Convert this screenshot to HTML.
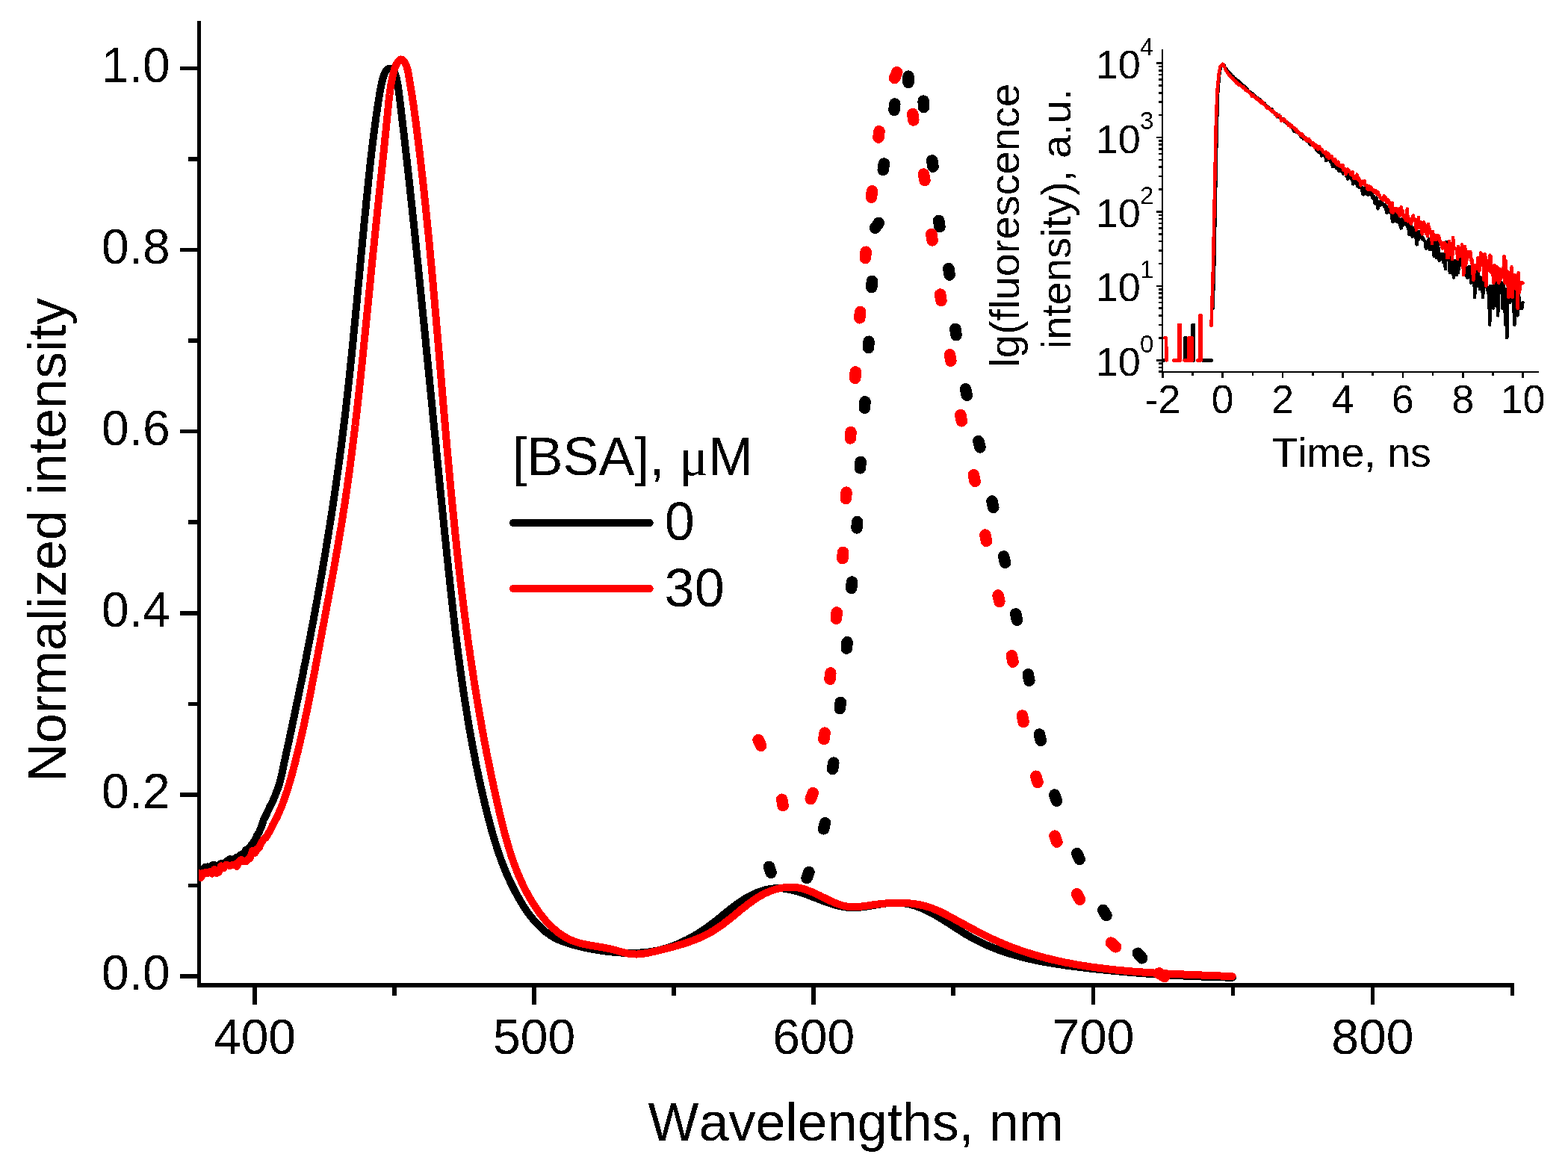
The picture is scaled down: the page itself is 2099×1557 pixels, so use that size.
<!DOCTYPE html><html><head><meta charset="utf-8"><style>html,body{margin:0;padding:0;background:#fff;overflow:hidden;}svg{display:block;}text{font-family:"Liberation Sans",sans-serif;fill:#000;font-variant-ligatures:none;font-kerning:none;}</style></head><body>
<svg width="2099" height="1557" viewBox="0 0 2099 1557" shape-rendering="crispEdges">
<rect width="2099" height="1557" fill="#fff"/>
<path d="M266.5 27.8V1322" stroke="#000" stroke-width="5" fill="none"/>
<path d="M264 1319H2027" stroke="#000" stroke-width="6" fill="none"/>
<path d="M241 1307H266M241 1063.9H266M241 820.8H266M241 577.7H266M241 334.6H266M241 91.5H266M252 1185.5H266M252 942.3H266M252 699.2H266M252 456.1H266M252 213H266M341 1319V1345M715.1 1319V1345M1089.2 1319V1345M1463.3 1319V1345M1837.4 1319V1345M528 1319V1333M902.1 1319V1333M1276.2 1319V1333M1650.4 1319V1333M2024.5 1319V1333" stroke="#000" stroke-width="5.5" fill="none"/>
<defs><clipPath id="pc"><rect x="266" y="0" width="1770" height="1319"/></clipPath></defs><g clip-path="url(#pc)">
<path d="M265.9 1163.9L268.9 1164.8L271.9 1164.4L274.9 1160.7L277.9 1160.4L280.9 1163.5L283.9 1158.3L286.9 1157.7L289.9 1160.8L292.9 1158.3L295.9 1156L298.9 1155.6L301.9 1155.3L304.9 1152.1L307.9 1150.1L310.9 1152L313.9 1149.9L316.9 1147.5L319.9 1147.3L322.9 1144.1L325.9 1144.1L328.9 1137.9L331.9 1137L334.9 1133.6L337.9 1129.3L340.9 1125.8L343.9 1118.7L346.9 1114L349.9 1106.7L352.9 1097.5L355.9 1091.8L358.9 1085.2L361.9 1078.7L364.9 1073.4L367.9 1066.1L370.9 1058.5L373.9 1049.7L375.4 1044.1L375.9 1042.2L376.4 1040.2L376.8 1038.3L377.3 1036.3L377.7 1034.3L378.1 1032.3L378.5 1030.4L378.9 1028.4L379.3 1026.4L379.7 1024.5L380.2 1022.5L380.6 1020.5L381 1018.6L381.4 1016.6L381.8 1014.7L382.2 1012.7L382.7 1010.7L383.1 1008.8L383.5 1006.8L383.9 1004.9L384.4 1002.9L384.8 1001L385.2 999L385.6 997.1L386.1 995.2L386.5 993.2L386.9 991.3L387.3 989.3L387.7 987.4L388.2 985.4L388.6 983.4L389 981.5L389.4 979.5L389.8 977.6L390.2 975.6L390.7 973.7L391.1 971.7L391.5 969.8L391.9 967.8L392.3 965.9L392.7 963.9L393.1 962L393.6 960L394 958.1L394.4 956.1L394.8 954.2L395.2 952.2L395.6 950.3L396 948.3L396.4 946.3L396.8 944.4L397.2 942.4L397.6 940.5L398.1 938.5L398.5 936.6L398.9 934.6L399.3 932.7L399.7 930.7L400.1 928.7L400.5 926.8L400.9 924.8L401.3 922.9L401.7 920.9L402.1 919L402.5 917L402.9 915L403.3 913.1L403.7 911.1L404.1 909.2L404.5 907.2L404.9 905.2L405.3 903.3L405.7 901.3L406 899.4L406.4 897.4L406.8 895.4L407.2 893.5L407.6 891.5L408 889.6L408.4 887.6L408.8 885.6L409.2 883.7L409.6 881.7L409.9 879.8L410.3 877.8L410.7 875.8L411.1 873.9L411.5 871.9L411.9 869.9L412.3 868L412.6 866L413 864.1L413.4 862.1L413.8 860.1L414.2 858.2L414.5 856.2L414.9 854.2L415.3 852.3L415.7 850.3L416 848.3L416.4 846.4L416.8 844.4L417.2 842.5L417.5 840.5L417.9 838.5L418.3 836.6L418.6 834.6L419 832.6L419.4 830.7L419.8 828.7L420.1 826.7L420.5 824.8L420.9 822.8L421.2 820.8L421.6 818.9L421.9 816.9L422.3 814.9L422.7 813L423 811L423.4 809L423.8 807.1L424.1 805.1L424.5 803.1L424.8 801.1L425.2 799.2L425.5 797.2L425.9 795.2L426.2 793.3L426.6 791.3L427 789.3L427.3 787.4L427.7 785.4L428 783.4L428.4 781.5L428.7 779.5L429 777.5L429.4 775.5L429.7 773.6L430.1 771.6L430.4 769.6L430.8 767.7L431.1 765.7L431.5 763.7L431.8 761.7L432.1 759.8L432.5 757.8L432.8 755.8L433.1 753.9L433.5 751.9L433.8 749.9L434.2 747.9L434.5 746L434.8 744L435.2 742L435.5 740L435.8 738.1L436.1 736.1L436.5 734.1L436.8 732.1L437.1 730.2L437.4 728.2L437.8 726.2L438.1 724.2L438.4 722.3L438.7 720.3L439.1 718.3L439.4 716.3L439.7 714.4L440 712.4L440.3 710.4L440.6 708.4L441 706.5L441.3 704.5L441.6 702.5L441.9 700.5L442.2 698.6L442.5 696.6L442.8 694.6L443.1 692.6L443.4 690.7L443.8 688.7L444.1 686.7L444.4 684.7L444.7 682.8L445 680.8L445.3 678.8L445.6 676.8L445.9 674.8L446.2 672.9L446.5 670.9L446.8 668.9L447.1 666.9L447.4 664.9L447.6 663L447.9 661L448.2 659L448.5 657L448.8 655.1L449.1 653.1L449.4 651.1L449.7 649.1L450 647.1L450.2 645.2L450.5 643.2L450.8 641.2L451.1 639.2L451.4 637.2L451.6 635.3L451.9 633.3L452.2 631.3L452.5 629.3L452.7 627.3L453 625.4L453.3 623.4L453.6 621.4L453.8 619.4L454.1 617.4L454.4 615.4L454.6 613.5L454.9 611.5L455.2 609.5L455.4 607.5L455.7 605.5L456 603.6L456.2 601.6L456.5 599.6L456.7 597.6L457 595.6L457.2 593.6L457.5 591.7L457.8 589.7L458 587.7L458.3 585.7L458.5 583.7L458.8 581.7L459 579.8L459.2 577.8L459.5 575.8L459.7 573.8L460 571.8L460.2 569.8L460.5 567.9L460.7 565.9L460.9 563.9L461.2 561.9L461.4 559.9L461.7 557.9L461.9 556L462.1 554L462.4 552L462.6 550L462.8 548L463 546L463.3 544L463.5 542.1L463.7 540.1L464 538.1L464.2 536.1L464.4 534.1L464.6 532.1L464.9 530.1L465.1 528.2L465.3 526.2L465.5 524.2L465.7 522.2L466 520.2L466.2 518.2L466.4 516.2L466.6 514.3L466.8 512.3L467 510.3L467.2 508.3L467.5 506.3L467.7 504.3L467.9 502.3L468.1 500.4L468.3 498.4L468.5 496.4L468.7 494.4L468.9 492.4L469.1 490.4L469.3 488.4L469.5 486.4L469.8 484.5L470 482.5L470.2 480.5L470.4 478.5L470.6 476.5L470.8 474.5L471 472.5L471.2 470.5L471.4 468.6L471.6 466.6L471.8 464.6L472 462.6L472.2 460.6L472.4 458.6L472.6 456.6L472.8 454.6L473 452.6L473.2 450.7L473.4 448.7L473.5 446.7L473.7 444.7L473.9 442.7L474.1 440.7L474.3 438.7L474.5 436.7L474.7 434.7L474.9 432.8L475.1 430.8L475.3 428.8L475.5 426.8L475.7 424.8L475.9 422.8L476 420.8L476.2 418.8L476.4 416.8L476.6 414.8L476.8 412.9L477 410.9L477.2 408.9L477.4 406.9L477.6 404.9L477.7 402.9L477.9 400.9L478.1 398.9L478.3 396.9L478.5 394.9L478.7 392.9L478.9 391L479.1 389L479.2 387L479.4 385L479.6 383L479.8 381L480 379L480.2 377L480.4 375L480.6 373L480.7 371L480.9 369.1L481.1 367.1L481.3 365.1L481.5 363.1L481.7 361.1L481.9 359.1L482 357.1L482.2 355.1L482.4 353.1L482.6 351.1L482.8 349.1L483 347.1L483.2 345.1L483.4 343.2L483.5 341.2L483.7 339.2L483.9 337.2L484.1 335.2L484.3 333.2L484.5 331.2L484.7 329.2L484.9 327.2L485 325.2L485.2 323.2L485.4 321.2L485.6 319.2L485.8 317.3L486 315.3L486.2 313.3L486.4 311.3L486.6 309.3L486.7 307.3L486.9 305.3L487.1 303.3L487.3 301.3L487.5 299.3L487.7 297.3L487.9 295.3L488.1 293.3L488.3 291.3L488.5 289.3L488.7 287.4L488.9 285.4L489.1 283.4L489.3 281.4L489.5 279.4L489.7 277.4L489.9 275.4L490.1 273.4L490.3 271.4L490.4 269.4L490.6 267.4L490.8 265.4L491 263.4L491.2 261.4L491.5 259.4L491.7 257.4L491.9 255.4L492.1 253.5L492.3 251.5L492.5 249.5L492.7 247.5L492.9 245.5L493.1 243.5L493.3 241.5L493.5 239.5L493.7 237.5L493.9 235.5L494.1 233.5L494.3 231.5L494.6 229.5L494.8 227.5L495 225.5L495.2 223.6L495.4 221.6L495.6 219.6L495.9 217.6L496.1 215.6L496.3 213.6L496.5 211.6L496.8 209.6L497 207.6L497.2 205.6L497.4 203.7L497.7 201.7L497.9 199.7L498.1 197.7L498.4 195.7L498.6 193.7L498.8 191.7L499.1 189.8L499.3 187.8L499.6 185.8L499.8 183.8L500.1 181.8L500.3 179.9L500.6 177.9L500.8 175.9L501.1 173.9L501.4 172L501.6 170L501.9 168L502.1 166.1L502.4 164.1L502.7 162.1L503 160.1L503.2 158.2L503.5 156.2L503.8 154.3L504.1 152.3L504.4 150.3L504.7 148.4L504.9 146.4L505.2 144.5L505.5 142.5L505.8 140.5L506.1 138.6L506.4 136.6L506.7 134.7L507.1 132.7L507.4 130.8L507.7 128.9L508 126.9L508.3 125L508.7 123L509 121.1L509.4 119.1L509.7 117.1L510.1 115.1L510.6 113L511 110.9L511.6 108.7L512.1 106.4L512.7 104.2L513.4 102L514.2 99.8L515.1 97.8L516 96L517.1 94.5L518.3 93.3L519.6 92.4L521 91.9L522.4 91.8L523.9 92.2L525.2 93L526.3 94.2L527.4 95.7L528.3 97.4L529.1 99.4L529.8 101.5L530.5 103.7L531 106L531.5 108.2L532 110.4L532.4 112.6L532.7 114.7L533 116.8L533.3 118.8L533.6 120.8L533.9 122.8L534.1 124.8L534.4 126.8L534.6 128.7L534.9 130.7L535.1 132.7L535.3 134.6L535.6 136.6L535.8 138.5L536 140.5L536.3 142.5L536.5 144.4L536.7 146.4L537 148.4L537.2 150.3L537.4 152.3L537.7 154.3L537.9 156.2L538.1 158.2L538.4 160.2L538.6 162.2L538.8 164.1L539.1 166.1L539.3 168.1L539.5 170L539.8 172L540 174L540.2 176L540.5 177.9L540.7 179.9L540.9 181.9L541.1 183.9L541.4 185.9L541.6 187.8L541.8 189.8L542 191.8L542.3 193.8L542.5 195.8L542.7 197.7L542.9 199.7L543.2 201.7L543.4 203.7L543.6 205.7L543.8 207.6L544.1 209.6L544.3 211.6L544.5 213.6L544.7 215.6L545 217.6L545.2 219.5L545.4 221.5L545.6 223.5L545.8 225.5L546.1 227.5L546.3 229.5L546.5 231.5L546.7 233.4L546.9 235.4L547.2 237.4L547.4 239.4L547.6 241.4L547.8 243.4L548 245.4L548.2 247.4L548.5 249.4L548.7 251.3L548.9 253.3L549.1 255.3L549.3 257.3L549.5 259.3L549.7 261.3L550 263.3L550.2 265.3L550.4 267.3L550.6 269.3L550.8 271.2L551 273.2L551.2 275.2L551.5 277.2L551.7 279.2L551.9 281.2L552.1 283.2L552.3 285.2L552.5 287.2L552.7 289.2L552.9 291.2L553.1 293.2L553.4 295.2L553.6 297.2L553.8 299.1L554 301.1L554.2 303.1L554.4 305.1L554.6 307.1L554.8 309.1L555 311.1L555.2 313.1L555.4 315.1L555.7 317.1L555.9 319.1L556.1 321.1L556.3 323.1L556.5 325.1L556.7 327.1L556.9 329.1L557.1 331.1L557.3 333L557.5 335L557.7 337L557.9 339L558.1 341L558.3 343L558.5 345L558.7 347L559 349L559.2 351L559.4 353L559.6 355L559.8 357L560 359L560.2 361L560.4 362.9L560.6 364.9L560.8 366.9L561 368.9L561.2 370.9L561.4 372.9L561.6 374.9L561.8 376.9L562 378.9L562.2 380.9L562.4 382.9L562.6 384.9L562.8 386.8L563 388.8L563.2 390.8L563.4 392.8L563.6 394.8L563.8 396.8L564 398.8L564.2 400.8L564.4 402.8L564.6 404.8L564.8 406.8L565 408.7L565.2 410.7L565.4 412.7L565.6 414.7L565.8 416.7L566 418.7L566.2 420.7L566.4 422.7L566.6 424.7L566.8 426.7L567 428.6L567.2 430.6L567.4 432.6L567.6 434.6L567.8 436.6L568 438.6L568.2 440.6L568.4 442.6L568.6 444.6L568.8 446.6L569 448.5L569.2 450.5L569.4 452.5L569.6 454.5L569.8 456.5L569.9 458.5L570.1 460.5L570.3 462.5L570.5 464.4L570.7 466.4L570.9 468.4L571.1 470.4L571.3 472.4L571.5 474.4L571.7 476.4L571.9 478.4L572.1 480.4L572.3 482.3L572.5 484.3L572.7 486.3L572.9 488.3L573.1 490.3L573.3 492.3L573.5 494.3L573.7 496.3L573.9 498.2L574.1 500.2L574.3 502.2L574.5 504.2L574.7 506.2L574.8 508.2L575 510.2L575.2 512.2L575.4 514.1L575.6 516.1L575.8 518.1L576 520.1L576.2 522.1L576.4 524.1L576.6 526.1L576.8 528.1L577 530L577.2 532L577.4 534L577.6 536L577.8 538L578 540L578.2 542L578.4 544L578.6 545.9L578.8 547.9L579 549.9L579.1 551.9L579.3 553.9L579.5 555.9L579.7 557.9L579.9 559.9L580.1 561.8L580.3 563.8L580.5 565.8L580.7 567.8L580.9 569.8L581.1 571.8L581.3 573.8L581.5 575.8L581.7 577.7L581.9 579.7L582.1 581.7L582.3 583.7L582.5 585.7L582.7 587.7L582.9 589.7L583.1 591.7L583.3 593.6L583.5 595.6L583.7 597.6L583.8 599.6L584 601.6L584.2 603.6L584.4 605.6L584.6 607.5L584.8 609.5L585 611.5L585.2 613.5L585.4 615.5L585.6 617.5L585.8 619.5L586 621.5L586.2 623.4L586.4 625.4L586.6 627.4L586.8 629.4L587 631.4L587.2 633.4L587.4 635.4L587.6 637.4L587.8 639.4L588 641.3L588.2 643.3L588.4 645.3L588.6 647.3L588.8 649.3L589 651.3L589.2 653.3L589.4 655.3L589.6 657.2L589.8 659.2L590 661.2L590.2 663.2L590.4 665.2L590.6 667.2L590.8 669.2L591 671.2L591.2 673.2L591.4 675.1L591.6 677.1L591.8 679.1L592 681.1L592.2 683.1L592.4 685.1L592.6 687.1L592.8 689.1L593 691.1L593.2 693L593.4 695L593.6 697L593.8 699L594 701L594.2 703L594.4 705L594.6 707L594.8 709L595 710.9L595.2 712.9L595.4 714.9L595.6 716.9L595.8 718.9L596 720.9L596.3 722.9L596.5 724.9L596.7 726.9L596.9 728.9L597.1 730.8L597.3 732.8L597.5 734.8L597.7 736.8L597.9 738.8L598.1 740.8L598.3 742.8L598.5 744.8L598.7 746.8L598.9 748.8L599.1 750.8L599.4 752.8L599.6 754.7L599.8 756.7L600 758.7L600.2 760.7L600.4 762.7L600.6 764.7L600.8 766.7L601 768.7L601.2 770.7L601.5 772.7L601.7 774.7L601.9 776.7L602.1 778.6L602.3 780.6L602.5 782.6L602.7 784.6L603 786.6L603.2 788.6L603.4 790.6L603.6 792.6L603.8 794.6L604 796.6L604.3 798.6L604.5 800.6L604.7 802.5L604.9 804.5L605.2 806.5L605.4 808.5L605.6 810.5L605.8 812.5L606.1 814.5L606.3 816.5L606.5 818.5L606.7 820.5L607 822.5L607.2 824.4L607.4 826.4L607.7 828.4L607.9 830.4L608.1 832.4L608.4 834.4L608.6 836.4L608.8 838.4L609.1 840.4L609.3 842.4L609.5 844.3L609.8 846.3L610 848.3L610.3 850.3L610.5 852.3L610.8 854.3L611 856.3L611.3 858.3L611.5 860.3L611.7 862.2L612 864.2L612.3 866.2L612.5 868.2L612.8 870.2L613 872.2L613.3 874.2L613.5 876.1L613.8 878.1L614 880.1L614.3 882.1L614.6 884.1L614.8 886.1L615.1 888.1L615.4 890L615.6 892L615.9 894L616.2 896L616.4 898L616.7 900L617 901.9L617.3 903.9L617.6 905.9L617.8 907.9L618.1 909.9L618.4 911.8L618.7 913.8L619 915.8L619.3 917.8L619.5 919.8L619.8 921.7L620.1 923.7L620.4 925.7L620.7 927.7L621 929.7L621.3 931.6L621.6 933.6L621.9 935.6L622.2 937.6L622.5 939.5L622.8 941.5L623.1 943.5L623.5 945.5L623.8 947.4L624.1 949.4L624.4 951.4L624.7 953.4L625 955.3L625.4 957.3L625.7 959.3L626 961.3L626.3 963.2L626.7 965.2L627 967.2L627.3 969.1L627.7 971.1L628 973.1L628.3 975L628.7 977L629 979L629.4 980.9L629.7 982.9L630.1 984.9L630.4 986.8L630.8 988.8L631.1 990.8L631.5 992.7L631.9 994.7L632.2 996.7L632.6 998.6L632.9 1000.6L633.3 1002.5L633.7 1004.5L634.1 1006.5L634.4 1008.4L634.8 1010.4L635.2 1012.3L635.6 1014.3L636 1016.3L636.4 1018.2L636.7 1020.2L637.1 1022.1L637.5 1024.1L637.9 1026L638.3 1028L638.7 1029.9L639.1 1031.9L639.5 1033.8L640 1035.8L640.4 1037.7L640.8 1039.7L641.2 1041.6L641.6 1043.6L642 1045.5L642.5 1047.5L642.9 1049.4L643.3 1051.4L643.8 1053.3L644.2 1055.3L644.6 1057.2L645.1 1059.2L645.5 1061.1L646 1063L646.4 1065L646.9 1066.9L647.3 1068.9L647.8 1070.8L648.2 1072.7L648.7 1074.7L649.1 1076.6L649.6 1078.6L650.1 1080.5L650.6 1082.4L651 1084.4L651.5 1086.3L652 1088.2L652.5 1090.2L653 1092.1L653.5 1094L654 1095.9L654.5 1097.9L655 1099.8L655.5 1101.7L656 1103.7L656.5 1105.6L657 1107.5L657.6 1109.4L658.1 1111.3L658.6 1113.3L659.2 1115.2L659.7 1117.1L660.3 1119L660.8 1120.9L661.4 1122.8L662 1124.7L662.6 1126.6L663.2 1128.5L663.8 1130.4L664.4 1132.3L665 1134.2L665.6 1136.1L666.2 1138L666.8 1139.9L667.5 1141.8L668.1 1143.7L668.8 1145.5L669.5 1147.4L670.1 1149.3L670.8 1151.2L671.5 1153L672.2 1154.9L672.9 1156.8L673.7 1158.6L674.4 1160.5L675.1 1162.4L675.9 1164.2L676.6 1166.1L677.4 1167.9L678.2 1169.8L679 1171.6L679.8 1173.4L680.6 1175.3L681.5 1177.1L682.3 1178.9L683.1 1180.7L684 1182.6L684.9 1184.4L685.8 1186.2L686.7 1188L687.6 1189.8L688.5 1191.6L689.5 1193.4L690.4 1195.2L691.4 1197L692.4 1198.8L693.4 1200.5L694.4 1202.3L695.4 1204.1L696.4 1205.9L697.5 1207.6L698.5 1209.4L699.6 1211.1L700.7 1212.9L701.8 1214.6L703 1216.3L704.1 1218L705.3 1219.7L706.4 1221.4L707.6 1223L708.8 1224.7L710.1 1226.3L711.3 1227.9L712.6 1229.5L713.9 1231.1L715.2 1232.6L716.5 1234.1L717.8 1235.6L719.2 1237.1L720.6 1238.5L722 1239.9L723.4 1241.3L724.9 1242.7L726.3 1244L727.8 1245.3L729.3 1246.6L730.8 1247.8L732.4 1249L734 1250.1L735.6 1251.3L737.2 1252.3L738.8 1253.4L740.5 1254.4L742.2 1255.3L743.9 1256.2L745.7 1257.1L747.4 1257.9L749.2 1258.7L751 1259.5L752.8 1260.2L754.7 1260.9L756.5 1261.5L758.4 1262.2L760.3 1262.8L762.2 1263.4L764.1 1263.9L766 1264.5L767.9 1265L769.8 1265.5L771.7 1266.1L773.7 1266.5L775.6 1267L777.5 1267.5L779.5 1268L781.4 1268.4L783.4 1268.8L785.3 1269.3L787.3 1269.7L789.3 1270.1L791.2 1270.4L793.2 1270.8L795.2 1271.2L797.1 1271.5L799.1 1271.9L801.1 1272.2L803.1 1272.5L805.1 1272.8L807.1 1273.1L809.1 1273.3L811.1 1273.6L813.1 1273.8L815.1 1274.1L817.1 1274.3L819.1 1274.5L821.1 1274.7L823.1 1274.9L825.1 1275.1L827.1 1275.2L829.2 1275.4L831.2 1275.5L833.2 1275.6L835.2 1275.7L837.2 1275.8L839.3 1275.8L841.3 1275.9L843.3 1275.9L845.3 1275.9L847.3 1275.9L849.3 1275.9L851.4 1275.8L853.4 1275.8L855.4 1275.7L857.4 1275.5L859.4 1275.4L861.4 1275.2L863.4 1275.1L865.4 1274.9L867.3 1274.6L869.3 1274.4L871.3 1274.1L873.3 1273.8L875.2 1273.4L877.2 1273.1L879.2 1272.7L881.1 1272.3L883 1271.8L885 1271.4L886.9 1270.9L888.8 1270.3L890.7 1269.8L892.6 1269.2L894.5 1268.6L896.4 1268L898.3 1267.3L900.2 1266.6L902.1 1265.9L903.9 1265.2L905.8 1264.4L907.6 1263.7L909.5 1262.9L911.3 1262.1L913.1 1261.2L914.9 1260.4L916.7 1259.5L918.5 1258.6L920.3 1257.7L922.1 1256.8L923.8 1255.8L925.6 1254.8L927.4 1253.8L929.1 1252.8L930.8 1251.8L932.5 1250.8L934.3 1249.7L936 1248.7L937.7 1247.6L939.3 1246.5L941 1245.4L942.7 1244.3L944.3 1243.1L946 1242L947.6 1240.8L949.2 1239.7L950.8 1238.5L952.4 1237.3L954 1236.1L955.6 1234.9L957.2 1233.7L958.7 1232.4L960.3 1231.2L961.8 1230L963.3 1228.7L964.9 1227.5L966.4 1226.2L967.9 1225L969.4 1223.7L971 1222.5L972.5 1221.2L974 1220L975.6 1218.7L977.1 1217.5L978.7 1216.3L980.3 1215L981.8 1213.8L983.4 1212.6L985.1 1211.4L986.7 1210.2L988.3 1209.1L990 1207.9L991.7 1206.8L993.4 1205.7L995.1 1204.6L996.9 1203.5L998.7 1202.4L1000.5 1201.4L1002.3 1200.4L1004.1 1199.4L1006 1198.5L1007.9 1197.5L1009.8 1196.7L1011.7 1195.8L1013.6 1195L1015.5 1194.3L1017.4 1193.5L1019.4 1192.9L1021.3 1192.2L1023.3 1191.7L1025.2 1191.2L1027.2 1190.7L1029.2 1190.3L1031.1 1190L1033.1 1189.7L1035 1189.5L1037 1189.3L1038.9 1189.2L1040.9 1189.2L1042.8 1189.2L1044.8 1189.3L1046.7 1189.4L1048.7 1189.6L1050.6 1189.8L1052.5 1190.1L1054.5 1190.4L1056.4 1190.8L1058.3 1191.1L1060.2 1191.6L1062.1 1192L1064.1 1192.5L1066 1193.1L1067.9 1193.6L1069.8 1194.2L1071.7 1194.8L1073.6 1195.5L1075.6 1196.1L1077.5 1196.8L1079.4 1197.5L1081.3 1198.2L1083.2 1198.9L1085.1 1199.6L1087 1200.3L1088.9 1201.1L1090.8 1201.8L1092.7 1202.6L1094.6 1203.3L1096.5 1204L1098.4 1204.8L1100.3 1205.5L1102.2 1206.2L1104.2 1206.9L1106.1 1207.6L1108 1208.3L1109.9 1209L1111.8 1209.6L1113.7 1210.2L1115.6 1210.8L1117.5 1211.4L1119.4 1211.9L1121.3 1212.4L1123.2 1212.9L1125.2 1213.3L1127.1 1213.7L1129 1214L1131 1214.4L1132.9 1214.6L1134.9 1214.8L1136.8 1215L1138.8 1215.1L1140.7 1215.1L1142.7 1215.1L1144.7 1215.1L1146.7 1215L1148.7 1214.9L1150.6 1214.7L1152.6 1214.5L1154.6 1214.3L1156.6 1214.1L1158.6 1213.8L1160.7 1213.5L1162.7 1213.2L1164.7 1212.9L1166.7 1212.5L1168.7 1212.2L1170.7 1211.8L1172.7 1211.5L1174.7 1211.2L1176.8 1210.8L1178.8 1210.5L1180.8 1210.2L1182.8 1209.9L1184.8 1209.6L1186.8 1209.4L1188.8 1209.1L1190.8 1208.9L1192.8 1208.8L1194.8 1208.7L1196.7 1208.6L1198.7 1208.5L1200.7 1208.5L1202.6 1208.6L1204.6 1208.6L1206.6 1208.8L1208.5 1209L1210.4 1209.3L1212.4 1209.6L1214.3 1209.9L1216.2 1210.3L1218.1 1210.7L1220 1211.2L1221.9 1211.8L1223.8 1212.3L1225.7 1212.9L1227.6 1213.6L1229.4 1214.3L1231.3 1215L1233.1 1215.7L1235 1216.5L1236.8 1217.3L1238.7 1218.1L1240.5 1219L1242.3 1219.9L1244.1 1220.8L1245.9 1221.7L1247.7 1222.7L1249.5 1223.7L1251.3 1224.7L1253.1 1225.7L1254.8 1226.7L1256.6 1227.8L1258.3 1228.8L1260.1 1229.9L1261.8 1230.9L1263.6 1232L1265.3 1233.1L1267 1234.2L1268.7 1235.3L1270.5 1236.4L1272.2 1237.5L1273.9 1238.6L1275.6 1239.7L1277.3 1240.8L1279 1241.9L1280.7 1243L1282.4 1244.1L1284.1 1245.2L1285.8 1246.3L1287.5 1247.4L1289.2 1248.4L1290.9 1249.5L1292.6 1250.6L1294.4 1251.6L1296.1 1252.6L1297.8 1253.6L1299.5 1254.6L1301.3 1255.6L1303 1256.5L1304.8 1257.5L1306.6 1258.4L1308.3 1259.3L1310.1 1260.2L1311.9 1261.1L1313.7 1261.9L1315.5 1262.8L1317.3 1263.6L1319.1 1264.5L1320.9 1265.3L1322.7 1266L1324.5 1266.8L1326.3 1267.6L1328.2 1268.3L1330 1269.1L1331.8 1269.8L1333.7 1270.5L1335.5 1271.2L1337.4 1271.9L1339.3 1272.6L1341.1 1273.2L1343 1273.9L1344.9 1274.5L1346.8 1275.1L1348.6 1275.7L1350.5 1276.3L1352.4 1276.9L1354.3 1277.5L1356.2 1278.1L1358.1 1278.6L1360 1279.2L1362 1279.7L1363.9 1280.2L1365.8 1280.7L1367.7 1281.2L1369.6 1281.7L1371.6 1282.2L1373.5 1282.7L1375.4 1283.2L1377.4 1283.6L1379.3 1284.1L1381.3 1284.5L1383.2 1284.9L1385.2 1285.3L1387.1 1285.8L1389.1 1286.2L1391 1286.6L1393 1286.9L1395 1287.3L1396.9 1287.7L1398.9 1288.1L1400.9 1288.4L1402.8 1288.8L1404.8 1289.1L1406.8 1289.4L1408.8 1289.8L1410.8 1290.1L1412.7 1290.4L1414.7 1290.7L1416.7 1291L1418.7 1291.3L1420.7 1291.6L1422.7 1291.9L1424.7 1292.2L1426.6 1292.5L1428.6 1292.8L1430.6 1293.1L1432.6 1293.3L1434.6 1293.6L1436.6 1293.8L1438.6 1294.1L1440.6 1294.3L1442.6 1294.6L1444.6 1294.8L1446.6 1295.1L1448.6 1295.3L1450.6 1295.6L1452.6 1295.8L1454.6 1296L1456.6 1296.3L1458.5 1296.5L1460.5 1296.7L1462.5 1296.9L1464.5 1297.1L1466.5 1297.4L1468.5 1297.6L1470.5 1297.8L1472.5 1298L1474.5 1298.2L1476.5 1298.4L1478.5 1298.6L1480.5 1298.8L1482.5 1299L1484.4 1299.2L1486.4 1299.4L1488.4 1299.6L1490.4 1299.8L1492.4 1300L1494.4 1300.2L1496.4 1300.4L1498.4 1300.5L1500.4 1300.7L1502.4 1300.9L1504.3 1301.1L1506.3 1301.3L1508.3 1301.4L1510.3 1301.6L1512.3 1301.8L1514.3 1301.9L1516.3 1302.1L1518.3 1302.3L1520.3 1302.4L1522.3 1302.6L1524.2 1302.7L1526.2 1302.9L1528.2 1303L1530.2 1303.2L1532.2 1303.3L1534.2 1303.5L1536.2 1303.6L1538.2 1303.8L1540.2 1303.9L1542.2 1304L1544.1 1304.2L1546.1 1304.3L1548.1 1304.4L1550.1 1304.6L1552.1 1304.7L1554.1 1304.8L1556.1 1305L1558.1 1305.1L1560.1 1305.2L1562.1 1305.3L1564.1 1305.4L1566 1305.5L1568 1305.7L1570 1305.8L1572 1305.9L1574 1306L1576 1306.1L1578 1306.2L1580 1306.3L1582 1306.4L1584 1306.5L1586 1306.6L1588 1306.7L1590 1306.8L1592 1306.9L1594 1307L1596 1307L1597.9 1307.1L1599.9 1307.2L1601.9 1307.3L1603.9 1307.4L1605.9 1307.4L1607.9 1307.5L1609.9 1307.6L1611.9 1307.7L1613.9 1307.7L1615.9 1307.8L1617.9 1307.9L1619.9 1307.9L1621.9 1308L1623.9 1308.1L1625.9 1308.1L1628 1308.2L1630 1308.2L1632 1308.3L1634 1308.3L1636 1308.4L1638 1308.4L1640 1308.5L1642 1308.5L1644 1308.6L1646 1308.6L1648 1308.7L1650 1308.7" stroke="#000" stroke-width="10" fill="none" stroke-linejoin="round" stroke-linecap="round"/>
<path d="M1029.5 1160.3L1032.1 1168.3M1080 1175.5L1083 1167.5M1102.5 1109.8L1104.5 1101.6M1114.6 1029.6L1115.8 1021.2M1124.3 948.7L1125.3 940.3M1133.3 868.1L1134.1 859.7M1139.7 787.5L1140.5 779.1M1147 706.9L1147.6 698.5M1151.5 626.8L1152.1 618.4M1157.4 546.2L1158 537.8M1162.6 465.6L1163 457.2M1166.8 384.7L1167.4 376.3M1171.5 305.4L1176.3 298.4M1182.2 227.5L1183.4 219.1M1197.8 139L1197 147.4M1216 102L1216 110.5M1236.2 135.1L1236.4 143.5M1247.8 214.8L1249 223.2M1256.7 295.3L1257.9 303.7M1269.9 359.7L1271.1 368.1M1278.8 440.3L1280 448.7M1292.5 520.8L1294.3 529.2M1309.9 590.7L1311.9 598.9M1328 671L1329.8 679.4M1343.7 745L1345.5 753.4M1359.7 821.9L1361.5 830.3M1376.3 902.9L1377.9 911.3M1391.4 983.1L1393.2 991.3M1411.8 1064.1L1414.4 1072.1M1441.7 1142.6L1445.1 1150.4M1476.6 1218.4L1481 1225.6M1523.3 1276.2L1528.7 1282.8" stroke="#000" stroke-width="15.5" fill="none" stroke-linecap="round"/>
<path d="M266 1169L269 1174.8L272 1168.7L275 1168.2L278 1169L281 1167.1L284 1169.6L287 1164L290 1169L293 1167.4L296 1159.4L299 1162.5L302 1158.1L305 1158.4L308 1158.8L311 1158.2L314 1157.3L317 1159.9L320 1153.2L323 1151.1L326 1153.2L329 1153.4L332 1150.9L335 1148.1L338 1139L341 1142.2L344 1136.8L347 1134.4L350 1128.1L353 1123.2L356 1121.3L359 1116L362 1111.3L365 1104.7L368 1099L371 1093.6L374 1086.6L375.7 1082.7L376.4 1080.9L377.2 1079L377.9 1077.2L378.6 1075.3L379.3 1073.4L380 1071.6L380.6 1069.7L381.3 1067.8L382 1065.9L382.6 1064L383.2 1062.2L383.9 1060.3L384.5 1058.4L385.1 1056.4L385.7 1054.5L386.3 1052.6L386.8 1050.7L387.4 1048.8L388 1046.9L388.5 1045L389.1 1043L389.6 1041.1L390.2 1039.2L390.7 1037.2L391.2 1035.3L391.7 1033.4L392.3 1031.4L392.8 1029.5L393.3 1027.6L393.8 1025.6L394.3 1023.7L394.8 1021.8L395.3 1019.8L395.8 1017.9L396.3 1015.9L396.7 1014L397.2 1012.1L397.7 1010.1L398.2 1008.2L398.7 1006.2L399.1 1004.3L399.6 1002.3L400.1 1000.4L400.5 998.5L401 996.5L401.4 994.6L401.9 992.6L402.3 990.7L402.8 988.7L403.2 986.8L403.7 984.8L404.1 982.9L404.5 980.9L405 979L405.4 977L405.8 975.1L406.3 973.1L406.7 971.2L407.1 969.2L407.5 967.3L407.9 965.3L408.4 963.4L408.8 961.4L409.2 959.5L409.6 957.5L410 955.6L410.4 953.6L410.8 951.7L411.2 949.7L411.6 947.8L412 945.8L412.4 943.9L412.8 941.9L413.2 939.9L413.6 938L414 936L414.4 934.1L414.8 932.1L415.2 930.2L415.5 928.2L415.9 926.2L416.3 924.3L416.7 922.3L417.1 920.4L417.4 918.4L417.8 916.5L418.2 914.5L418.6 912.5L419 910.6L419.3 908.6L419.7 906.7L420.1 904.7L420.5 902.7L420.8 900.8L421.2 898.8L421.6 896.8L421.9 894.9L422.3 892.9L422.7 891L423 889L423.4 887L423.8 885.1L424.2 883.1L424.5 881.2L424.9 879.2L425.3 877.2L425.6 875.3L426 873.3L426.4 871.3L426.7 869.4L427.1 867.4L427.5 865.4L427.8 863.5L428.2 861.5L428.6 859.6L428.9 857.6L429.3 855.6L429.7 853.7L430 851.7L430.4 849.7L430.8 847.8L431.1 845.8L431.5 843.8L431.9 841.9L432.2 839.9L432.6 837.9L433 836L433.4 834L433.7 832L434.1 830.1L434.5 828.1L434.8 826.1L435.2 824.2L435.6 822.2L435.9 820.2L436.3 818.3L436.7 816.3L437.1 814.4L437.4 812.4L437.8 810.4L438.2 808.4L438.5 806.5L438.9 804.5L439.3 802.5L439.6 800.6L440 798.6L440.4 796.6L440.7 794.7L441.1 792.7L441.5 790.7L441.8 788.8L442.2 786.8L442.6 784.8L442.9 782.9L443.3 780.9L443.7 778.9L444 777L444.4 775L444.8 773L445.1 771.1L445.5 769.1L445.8 767.1L446.2 765.1L446.6 763.2L446.9 761.2L447.3 759.2L447.6 757.3L448 755.3L448.3 753.3L448.7 751.4L449 749.4L449.4 747.4L449.7 745.4L450.1 743.5L450.4 741.5L450.8 739.5L451.1 737.6L451.5 735.6L451.8 733.6L452.2 731.6L452.5 729.7L452.8 727.7L453.2 725.7L453.5 723.8L453.9 721.8L454.2 719.8L454.5 717.8L454.9 715.9L455.2 713.9L455.5 711.9L455.8 709.9L456.2 708L456.5 706L456.8 704L457.1 702.1L457.5 700.1L457.8 698.1L458.1 696.1L458.4 694.2L458.7 692.2L459 690.2L459.3 688.2L459.6 686.3L460 684.3L460.3 682.3L460.6 680.3L460.9 678.4L461.2 676.4L461.5 674.4L461.8 672.4L462.1 670.5L462.4 668.5L462.6 666.5L462.9 664.5L463.2 662.5L463.5 660.6L463.8 658.6L464.1 656.6L464.4 654.6L464.7 652.7L464.9 650.7L465.2 648.7L465.5 646.7L465.8 644.7L466.1 642.8L466.3 640.8L466.6 638.8L466.9 636.8L467.2 634.9L467.4 632.9L467.7 630.9L468 628.9L468.2 626.9L468.5 625L468.8 623L469 621L469.3 619L469.5 617L469.8 615.1L470.1 613.1L470.3 611.1L470.6 609.1L470.8 607.1L471.1 605.2L471.3 603.2L471.6 601.2L471.8 599.2L472.1 597.2L472.3 595.3L472.6 593.3L472.8 591.3L473.1 589.3L473.3 587.3L473.6 585.3L473.8 583.4L474.1 581.4L474.3 579.4L474.5 577.4L474.8 575.4L475 573.5L475.2 571.5L475.5 569.5L475.7 567.5L475.9 565.5L476.2 563.5L476.4 561.6L476.6 559.6L476.9 557.6L477.1 555.6L477.3 553.6L477.6 551.6L477.8 549.7L478 547.7L478.2 545.7L478.5 543.7L478.7 541.7L478.9 539.7L479.1 537.8L479.4 535.8L479.6 533.8L479.8 531.8L480 529.8L480.2 527.8L480.5 525.8L480.7 523.9L480.9 521.9L481.1 519.9L481.3 517.9L481.5 515.9L481.7 513.9L482 511.9L482.2 510L482.4 508L482.6 506L482.8 504L483 502L483.2 500L483.4 498L483.6 496.1L483.9 494.1L484.1 492.1L484.3 490.1L484.5 488.1L484.7 486.1L484.9 484.1L485.1 482.1L485.3 480.2L485.5 478.2L485.7 476.2L485.9 474.2L486.1 472.2L486.3 470.2L486.5 468.2L486.7 466.2L486.9 464.3L487.1 462.3L487.3 460.3L487.5 458.3L487.7 456.3L487.9 454.3L488.1 452.3L488.3 450.3L488.5 448.4L488.7 446.4L488.9 444.4L489.1 442.4L489.3 440.4L489.5 438.4L489.7 436.4L489.9 434.4L490.1 432.4L490.3 430.5L490.5 428.5L490.7 426.5L490.9 424.5L491.1 422.5L491.3 420.5L491.5 418.5L491.7 416.5L491.9 414.5L492.1 412.5L492.3 410.6L492.5 408.6L492.7 406.6L492.9 404.6L493.1 402.6L493.3 400.6L493.5 398.6L493.7 396.6L493.9 394.6L494.1 392.6L494.3 390.7L494.5 388.7L494.7 386.7L494.9 384.7L495.1 382.7L495.3 380.7L495.5 378.7L495.6 376.7L495.8 374.7L496 372.7L496.2 370.7L496.4 368.8L496.6 366.8L496.8 364.8L497 362.8L497.2 360.8L497.4 358.8L497.6 356.8L497.8 354.8L498 352.8L498.2 350.8L498.4 348.8L498.6 346.8L498.8 344.9L499 342.9L499.2 340.9L499.4 338.9L499.6 336.9L499.8 334.9L500 332.9L500.3 330.9L500.5 328.9L500.7 326.9L500.9 324.9L501.1 322.9L501.3 320.9L501.5 319L501.7 317L501.9 315L502.1 313L502.3 311L502.5 309L502.7 307L502.9 305L503.1 303L503.3 301L503.6 299L503.8 297L504 295L504.2 293L504.4 291.1L504.6 289.1L504.8 287.1L505 285.1L505.2 283.1L505.4 281.1L505.6 279.1L505.9 277.1L506.1 275.1L506.3 273.1L506.5 271.1L506.7 269.1L506.9 267.2L507.1 265.2L507.3 263.2L507.5 261.2L507.7 259.2L508 257.2L508.2 255.2L508.4 253.2L508.6 251.2L508.8 249.2L509 247.3L509.2 245.3L509.4 243.3L509.6 241.3L509.8 239.3L510.1 237.3L510.3 235.3L510.5 233.3L510.7 231.4L510.9 229.4L511.1 227.4L511.3 225.4L511.5 223.4L511.7 221.4L511.9 219.4L512.1 217.5L512.3 215.5L512.6 213.5L512.8 211.5L513 209.5L513.2 207.5L513.4 205.5L513.6 203.6L513.8 201.6L514 199.6L514.2 197.6L514.4 195.6L514.6 193.7L514.8 191.7L515 189.7L515.2 187.7L515.4 185.7L515.6 183.7L515.8 181.8L516 179.8L516.2 177.8L516.4 175.8L516.6 173.9L516.8 171.9L517 169.9L517.2 167.9L517.4 166L517.6 164L517.8 162L518 160L518.2 158.1L518.4 156.1L518.6 154.1L518.8 152.1L519 150.2L519.2 148.2L519.4 146.2L519.6 144.3L519.7 142.3L519.9 140.3L520.1 138.3L520.3 136.4L520.5 134.4L520.8 132.4L521 130.4L521.2 128.4L521.5 126.5L521.7 124.5L522 122.5L522.3 120.5L522.6 118.5L522.9 116.5L523.2 114.4L523.5 112.4L523.9 110.4L524.3 108.3L524.7 106.3L525.1 104.2L525.6 102.2L526.1 100.1L526.6 98L527.1 96L527.7 93.9L528.3 91.9L529 90L529.8 88.1L530.7 86.3L531.6 84.6L532.6 83L533.7 81.6L535 80.3L536.3 79.5L537.8 79.6L539.2 80.6L540.5 82L541.7 83.5L542.7 85.2L543.5 86.9L544.3 88.7L544.9 90.6L545.4 92.5L545.9 94.5L546.3 96.5L546.7 98.5L547.1 100.5L547.4 102.6L547.8 104.6L548.1 106.6L548.4 108.6L548.8 110.6L549.1 112.7L549.4 114.7L549.8 116.7L550.1 118.7L550.4 120.7L550.7 122.7L551.1 124.7L551.4 126.7L551.7 128.7L552 130.7L552.3 132.7L552.6 134.7L552.9 136.7L553.2 138.7L553.5 140.7L553.7 142.7L554 144.7L554.3 146.7L554.6 148.6L554.9 150.6L555.2 152.6L555.4 154.6L555.7 156.6L556 158.6L556.2 160.5L556.5 162.5L556.8 164.5L557 166.5L557.3 168.4L557.5 170.4L557.8 172.4L558 174.4L558.3 176.3L558.5 178.3L558.8 180.3L559 182.3L559.3 184.2L559.5 186.2L559.8 188.2L560 190.2L560.3 192.1L560.5 194.1L560.7 196.1L561 198.1L561.2 200L561.4 202L561.7 204L561.9 206L562.1 207.9L562.4 209.9L562.6 211.9L562.8 213.9L563.1 215.8L563.3 217.8L563.5 219.8L563.7 221.8L564 223.7L564.2 225.7L564.4 227.7L564.6 229.7L564.9 231.7L565.1 233.6L565.3 235.6L565.5 237.6L565.8 239.6L566 241.6L566.2 243.6L566.4 245.5L566.6 247.5L566.8 249.5L567.1 251.5L567.3 253.5L567.5 255.5L567.7 257.4L567.9 259.4L568.1 261.4L568.3 263.4L568.5 265.4L568.8 267.4L569 269.4L569.2 271.3L569.4 273.3L569.6 275.3L569.8 277.3L570 279.3L570.2 281.3L570.4 283.3L570.6 285.3L570.8 287.3L571 289.2L571.2 291.2L571.4 293.2L571.6 295.2L571.8 297.2L572 299.2L572.2 301.2L572.4 303.2L572.6 305.2L572.8 307.2L573 309.1L573.2 311.1L573.4 313.1L573.6 315.1L573.8 317.1L574 319.1L574.2 321.1L574.4 323.1L574.6 325.1L574.8 327.1L574.9 329.1L575.1 331.1L575.3 333L575.5 335L575.7 337L575.9 339L576.1 341L576.3 343L576.4 345L576.6 347L576.8 349L577 351L577.2 353L577.4 355L577.6 357L577.7 359L577.9 360.9L578.1 362.9L578.3 364.9L578.5 366.9L578.7 368.9L578.8 370.9L579 372.9L579.2 374.9L579.4 376.9L579.6 378.9L579.7 380.9L579.9 382.9L580.1 384.9L580.3 386.9L580.4 388.8L580.6 390.8L580.8 392.8L581 394.8L581.2 396.8L581.3 398.8L581.5 400.8L581.7 402.8L581.9 404.8L582 406.8L582.2 408.8L582.4 410.8L582.5 412.8L582.7 414.8L582.9 416.7L583.1 418.7L583.2 420.7L583.4 422.7L583.6 424.7L583.8 426.7L583.9 428.7L584.1 430.7L584.3 432.7L584.4 434.7L584.6 436.7L584.8 438.7L584.9 440.7L585.1 442.7L585.3 444.7L585.5 446.6L585.6 448.6L585.8 450.6L586 452.6L586.1 454.6L586.3 456.6L586.5 458.6L586.6 460.6L586.8 462.6L587 464.6L587.1 466.6L587.3 468.6L587.5 470.6L587.7 472.6L587.8 474.5L588 476.5L588.2 478.5L588.3 480.5L588.5 482.5L588.7 484.5L588.8 486.5L589 488.5L589.2 490.5L589.3 492.5L589.5 494.5L589.7 496.5L589.8 498.5L590 500.5L590.2 502.4L590.3 504.4L590.5 506.4L590.7 508.4L590.8 510.4L591 512.4L591.2 514.4L591.3 516.4L591.5 518.4L591.7 520.4L591.8 522.4L592 524.4L592.2 526.4L592.3 528.3L592.5 530.3L592.7 532.3L592.9 534.3L593 536.3L593.2 538.3L593.4 540.3L593.5 542.3L593.7 544.3L593.9 546.3L594 548.3L594.2 550.3L594.4 552.2L594.5 554.2L594.7 556.2L594.9 558.2L595.1 560.2L595.2 562.2L595.4 564.2L595.6 566.2L595.7 568.2L595.9 570.2L596.1 572.2L596.3 574.2L596.4 576.1L596.6 578.1L596.8 580.1L596.9 582.1L597.1 584.1L597.3 586.1L597.5 588.1L597.6 590.1L597.8 592.1L598 594.1L598.2 596.1L598.3 598.1L598.5 600L598.7 602L598.9 604L599.1 606L599.2 608L599.4 610L599.6 612L599.8 614L599.9 616L600.1 618L600.3 619.9L600.5 621.9L600.7 623.9L600.8 625.9L601 627.9L601.2 629.9L601.4 631.9L601.6 633.9L601.8 635.9L601.9 637.9L602.1 639.8L602.3 641.8L602.5 643.8L602.7 645.8L602.9 647.8L603 649.8L603.2 651.8L603.4 653.8L603.6 655.8L603.8 657.8L604 659.7L604.2 661.7L604.4 663.7L604.6 665.7L604.8 667.7L604.9 669.7L605.1 671.7L605.3 673.7L605.5 675.7L605.7 677.6L605.9 679.6L606.1 681.6L606.3 683.6L606.5 685.6L606.7 687.6L606.9 689.6L607.1 691.6L607.3 693.5L607.5 695.5L607.7 697.5L607.9 699.5L608.1 701.5L608.3 703.5L608.5 705.5L608.7 707.5L608.9 709.4L609.1 711.4L609.3 713.4L609.5 715.4L609.7 717.4L609.9 719.4L610.1 721.4L610.4 723.4L610.6 725.3L610.8 727.3L611 729.3L611.2 731.3L611.4 733.3L611.6 735.3L611.8 737.3L612.1 739.3L612.3 741.2L612.5 743.2L612.7 745.2L612.9 747.2L613.2 749.2L613.4 751.2L613.6 753.2L613.8 755.1L614 757.1L614.3 759.1L614.5 761.1L614.7 763.1L614.9 765.1L615.2 767L615.4 769L615.6 771L615.9 773L616.1 775L616.3 777L616.5 779L616.8 780.9L617 782.9L617.3 784.9L617.5 786.9L617.7 788.9L618 790.9L618.2 792.8L618.4 794.8L618.7 796.8L618.9 798.8L619.2 800.8L619.4 802.8L619.7 804.7L619.9 806.7L620.2 808.7L620.4 810.7L620.7 812.7L620.9 814.7L621.2 816.6L621.4 818.6L621.7 820.6L621.9 822.6L622.2 824.6L622.4 826.5L622.7 828.5L622.9 830.5L623.2 832.5L623.5 834.5L623.7 836.4L624 838.4L624.3 840.4L624.5 842.4L624.8 844.4L625.1 846.3L625.3 848.3L625.6 850.3L625.9 852.3L626.1 854.3L626.4 856.2L626.7 858.2L627 860.2L627.2 862.2L627.5 864.2L627.8 866.1L628.1 868.1L628.4 870.1L628.7 872.1L628.9 874L629.2 876L629.5 878L629.8 880L630.1 882L630.4 883.9L630.7 885.9L631 887.9L631.3 889.9L631.6 891.8L631.9 893.8L632.2 895.8L632.5 897.8L632.8 899.7L633.1 901.7L633.4 903.7L633.7 905.7L634 907.6L634.3 909.6L634.6 911.6L634.9 913.6L635.2 915.5L635.5 917.5L635.8 919.5L636.2 921.5L636.5 923.4L636.8 925.4L637.1 927.4L637.4 929.3L637.8 931.3L638.1 933.3L638.4 935.3L638.7 937.2L639.1 939.2L639.4 941.2L639.7 943.1L640.1 945.1L640.4 947.1L640.7 949.1L641.1 951L641.4 953L641.7 955L642.1 956.9L642.4 958.9L642.8 960.9L643.1 962.8L643.5 964.8L643.8 966.8L644.2 968.7L644.5 970.7L644.9 972.7L645.2 974.6L645.6 976.6L646 978.6L646.3 980.5L646.7 982.5L647 984.5L647.4 986.4L647.8 988.4L648.1 990.4L648.5 992.3L648.9 994.3L649.3 996.3L649.6 998.2L650 1000.2L650.4 1002.2L650.8 1004.1L651.2 1006.1L651.5 1008.1L651.9 1010L652.3 1012L652.7 1013.9L653.1 1015.9L653.5 1017.9L653.9 1019.8L654.3 1021.8L654.7 1023.7L655.1 1025.7L655.5 1027.7L655.9 1029.6L656.3 1031.6L656.7 1033.5L657.1 1035.5L657.5 1037.5L657.9 1039.4L658.3 1041.4L658.7 1043.3L659.2 1045.3L659.6 1047.3L660 1049.2L660.4 1051.2L660.8 1053.1L661.3 1055.1L661.7 1057L662.1 1059L662.6 1061L663 1062.9L663.4 1064.9L663.9 1066.8L664.3 1068.8L664.7 1070.7L665.2 1072.7L665.6 1074.6L666.1 1076.6L666.5 1078.5L667 1080.5L667.4 1082.4L667.9 1084.4L668.3 1086.4L668.8 1088.3L669.3 1090.3L669.7 1092.2L670.2 1094.2L670.7 1096.1L671.1 1098.1L671.6 1100L672.1 1101.9L672.6 1103.9L673.1 1105.8L673.5 1107.8L674 1109.7L674.5 1111.7L675 1113.6L675.6 1115.5L676.1 1117.5L676.6 1119.4L677.1 1121.3L677.7 1123.2L678.2 1125.2L678.8 1127.1L679.3 1129L679.9 1130.9L680.4 1132.8L681 1134.8L681.6 1136.7L682.2 1138.6L682.8 1140.5L683.4 1142.4L684 1144.3L684.6 1146.2L685.3 1148.1L685.9 1149.9L686.6 1151.8L687.2 1153.7L687.9 1155.6L688.6 1157.5L689.3 1159.3L690 1161.2L690.7 1163L691.4 1164.9L692.1 1166.7L692.9 1168.6L693.6 1170.4L694.4 1172.3L695.2 1174.1L696 1175.9L696.8 1177.7L697.6 1179.6L698.4 1181.4L699.3 1183.2L700.1 1185L701 1186.8L701.9 1188.6L702.8 1190.3L703.7 1192.1L704.6 1193.9L705.6 1195.7L706.5 1197.4L707.5 1199.2L708.5 1200.9L709.5 1202.7L710.5 1204.4L711.6 1206.1L712.6 1207.8L713.7 1209.6L714.8 1211.3L715.9 1213L717 1214.7L718.1 1216.3L719.3 1218L720.4 1219.7L721.6 1221.3L722.8 1222.9L724 1224.6L725.3 1226.2L726.5 1227.7L727.8 1229.3L729.1 1230.9L730.4 1232.4L731.7 1233.9L733.1 1235.4L734.5 1236.8L735.9 1238.3L737.3 1239.7L738.7 1241L740.2 1242.4L741.6 1243.7L743.1 1245L744.6 1246.3L746.2 1247.5L747.7 1248.7L749.3 1249.8L750.9 1251L752.5 1252.1L754.2 1253.1L755.8 1254.1L757.5 1255.1L759.2 1256L760.9 1256.9L762.7 1257.8L764.5 1258.6L766.3 1259.3L768.1 1260L769.9 1260.7L771.8 1261.3L773.7 1261.9L775.6 1262.5L777.5 1263L779.5 1263.5L781.4 1263.9L783.4 1264.3L785.4 1264.7L787.4 1265.1L789.4 1265.5L791.4 1265.9L793.4 1266.2L795.4 1266.5L797.5 1266.9L799.5 1267.2L801.5 1267.5L803.6 1267.9L805.6 1268.2L807.7 1268.6L809.7 1268.9L811.7 1269.3L813.7 1269.7L815.7 1270.1L817.8 1270.6L819.7 1271.1L821.7 1271.6L823.7 1272.1L825.7 1272.6L827.6 1273.2L829.6 1273.7L831.5 1274.3L833.5 1274.8L835.4 1275.3L837.3 1275.8L839.3 1276.2L841.2 1276.6L843.1 1276.9L845.1 1277.2L847 1277.3L849 1277.4L850.9 1277.5L852.9 1277.5L854.8 1277.4L856.8 1277.2L858.7 1277L860.7 1276.8L862.7 1276.5L864.6 1276.2L866.6 1275.8L868.6 1275.4L870.5 1275L872.5 1274.6L874.5 1274.1L876.5 1273.7L878.4 1273.2L880.4 1272.7L882.4 1272.3L884.4 1271.8L886.3 1271.3L888.3 1270.8L890.3 1270.3L892.2 1269.8L894.2 1269.3L896.1 1268.8L898.1 1268.3L900 1267.8L902 1267.3L903.9 1266.7L905.9 1266.2L907.8 1265.6L909.7 1265.1L911.6 1264.5L913.6 1263.9L915.5 1263.3L917.4 1262.7L919.3 1262.1L921.2 1261.4L923.1 1260.8L924.9 1260.1L926.8 1259.4L928.7 1258.7L930.5 1258L932.4 1257.3L934.2 1256.5L936 1255.8L937.9 1255L939.7 1254.1L941.5 1253.3L943.3 1252.4L945 1251.6L946.8 1250.7L948.6 1249.7L950.3 1248.8L952 1247.8L953.7 1246.8L955.5 1245.8L957.1 1244.7L958.8 1243.6L960.5 1242.5L962.2 1241.4L963.8 1240.2L965.5 1239.1L967.1 1237.9L968.7 1236.7L970.3 1235.4L971.9 1234.2L973.5 1233L975.1 1231.7L976.7 1230.4L978.3 1229.1L979.9 1227.9L981.5 1226.6L983.1 1225.3L984.6 1224L986.2 1222.7L987.8 1221.4L989.4 1220.1L990.9 1218.8L992.5 1217.5L994.1 1216.3L995.7 1215L997.3 1213.7L998.9 1212.5L1000.5 1211.3L1002.1 1210L1003.7 1208.8L1005.3 1207.7L1006.9 1206.5L1008.6 1205.3L1010.2 1204.2L1011.9 1203.1L1013.6 1202.1L1015.2 1201L1016.9 1200L1018.6 1199L1020.4 1198.1L1022.1 1197.1L1023.8 1196.2L1025.6 1195.4L1027.4 1194.6L1029.2 1193.8L1031 1193.1L1032.8 1192.4L1034.7 1191.7L1036.6 1191.1L1038.5 1190.6L1040.4 1190L1042.3 1189.6L1044.2 1189.2L1046.1 1188.8L1048.1 1188.5L1050 1188.2L1052 1188L1054 1187.9L1055.9 1187.8L1057.9 1187.7L1059.9 1187.8L1061.8 1187.8L1063.8 1188L1065.8 1188.2L1067.7 1188.4L1069.7 1188.8L1071.6 1189.2L1073.6 1189.6L1075.5 1190.1L1077.4 1190.7L1079.3 1191.3L1081.2 1192L1083.1 1192.7L1085 1193.4L1086.9 1194.2L1088.8 1195L1090.7 1195.9L1092.6 1196.7L1094.4 1197.6L1096.3 1198.5L1098.2 1199.4L1100 1200.4L1101.9 1201.3L1103.8 1202.2L1105.6 1203.1L1107.5 1204L1109.3 1204.9L1111.2 1205.8L1113.1 1206.7L1114.9 1207.5L1116.8 1208.3L1118.7 1209.1L1120.5 1209.8L1122.4 1210.5L1124.3 1211.1L1126.2 1211.7L1128 1212.3L1129.9 1212.8L1131.8 1213.2L1133.7 1213.5L1135.6 1213.8L1137.6 1214.1L1139.5 1214.2L1141.4 1214.3L1143.3 1214.3L1145.3 1214.2L1147.2 1214.1L1149.2 1214L1151.1 1213.8L1153.1 1213.6L1155.1 1213.3L1157.1 1213.1L1159.1 1212.8L1161 1212.5L1163 1212.2L1165 1211.9L1167.1 1211.6L1169.1 1211.3L1171.1 1211.1L1173.1 1210.8L1175.1 1210.6L1177.2 1210.3L1179.2 1210.1L1181.2 1209.9L1183.3 1209.7L1185.3 1209.5L1187.3 1209.4L1189.4 1209.2L1191.4 1209.1L1193.5 1209L1195.5 1208.9L1197.5 1208.8L1199.6 1208.8L1201.6 1208.8L1203.6 1208.8L1205.6 1208.8L1207.7 1208.8L1209.7 1208.9L1211.7 1209L1213.7 1209.1L1215.7 1209.2L1217.7 1209.4L1219.7 1209.6L1221.7 1209.8L1223.7 1210.1L1225.6 1210.3L1227.6 1210.7L1229.6 1211L1231.5 1211.4L1233.4 1211.8L1235.4 1212.2L1237.3 1212.7L1239.2 1213.2L1241.1 1213.8L1242.9 1214.3L1244.8 1215L1246.7 1215.6L1248.5 1216.3L1250.3 1217L1252.2 1217.8L1254 1218.5L1255.8 1219.3L1257.6 1220.1L1259.4 1221L1261.2 1221.8L1262.9 1222.7L1264.7 1223.6L1266.5 1224.5L1268.3 1225.5L1270 1226.4L1271.8 1227.3L1273.6 1228.3L1275.3 1229.3L1277.1 1230.2L1278.8 1231.2L1280.6 1232.2L1282.3 1233.1L1284.1 1234.1L1285.9 1235.1L1287.6 1236L1289.4 1237L1291.2 1237.9L1292.9 1238.9L1294.7 1239.9L1296.5 1240.8L1298.2 1241.8L1300 1242.7L1301.8 1243.7L1303.6 1244.6L1305.3 1245.5L1307.1 1246.5L1308.9 1247.4L1310.7 1248.3L1312.5 1249.2L1314.3 1250.1L1316.1 1251L1317.9 1251.9L1319.7 1252.8L1321.5 1253.7L1323.3 1254.6L1325.1 1255.5L1326.9 1256.3L1328.7 1257.2L1330.5 1258L1332.3 1258.8L1334.1 1259.7L1336 1260.5L1337.8 1261.3L1339.6 1262.1L1341.4 1262.9L1343.3 1263.6L1345.1 1264.4L1347 1265.2L1348.8 1265.9L1350.7 1266.6L1352.5 1267.4L1354.4 1268.1L1356.2 1268.8L1358.1 1269.5L1360 1270.2L1361.8 1270.8L1363.7 1271.5L1365.6 1272.2L1367.4 1272.8L1369.3 1273.4L1371.2 1274.1L1373.1 1274.7L1375 1275.3L1376.9 1275.9L1378.8 1276.5L1380.7 1277.1L1382.6 1277.7L1384.5 1278.2L1386.4 1278.8L1388.3 1279.3L1390.2 1279.9L1392.1 1280.4L1394 1280.9L1395.9 1281.4L1397.9 1282L1399.8 1282.5L1401.7 1282.9L1403.6 1283.4L1405.6 1283.9L1407.5 1284.4L1409.4 1284.8L1411.4 1285.3L1413.3 1285.7L1415.2 1286.2L1417.2 1286.6L1419.1 1287L1421.1 1287.5L1423 1287.9L1425 1288.3L1426.9 1288.7L1428.9 1289.1L1430.8 1289.4L1432.8 1289.8L1434.8 1290.2L1436.7 1290.5L1438.7 1290.9L1440.7 1291.3L1442.6 1291.6L1444.6 1291.9L1446.6 1292.3L1448.5 1292.6L1450.5 1292.9L1452.5 1293.2L1454.4 1293.5L1456.4 1293.8L1458.4 1294.1L1460.4 1294.4L1462.4 1294.7L1464.3 1295L1466.3 1295.3L1468.3 1295.5L1470.3 1295.8L1472.3 1296L1474.3 1296.3L1476.3 1296.5L1478.3 1296.8L1480.3 1297L1482.2 1297.3L1484.2 1297.5L1486.2 1297.7L1488.2 1297.9L1490.2 1298.1L1492.2 1298.3L1494.2 1298.6L1496.2 1298.8L1498.2 1298.9L1500.2 1299.1L1502.2 1299.3L1504.2 1299.5L1506.2 1299.7L1508.2 1299.9L1510.2 1300L1512.2 1300.2L1514.2 1300.4L1516.2 1300.5L1518.2 1300.7L1520.2 1300.9L1522.3 1301L1524.3 1301.2L1526.3 1301.3L1528.3 1301.4L1530.3 1301.6L1532.3 1301.7L1534.3 1301.8L1536.3 1302L1538.3 1302.1L1540.3 1302.2L1542.3 1302.4L1544.3 1302.5L1546.3 1302.6L1548.3 1302.7L1550.3 1302.8L1552.3 1302.9L1554.4 1303L1556.4 1303.1L1558.4 1303.2L1560.4 1303.4L1562.4 1303.5L1564.4 1303.6L1566.4 1303.7L1568.4 1303.7L1570.4 1303.8L1572.4 1303.9L1574.4 1304L1576.4 1304.1L1578.4 1304.2L1580.4 1304.3L1582.4 1304.4L1584.4 1304.5L1586.4 1304.6L1588.4 1304.6L1590.4 1304.7L1592.4 1304.8L1594.4 1304.9L1596.4 1305L1598.4 1305L1600.4 1305.1L1602.4 1305.2L1604.3 1305.3L1606.3 1305.4L1608.3 1305.5L1610.3 1305.5L1612.3 1305.6L1614.3 1305.7L1616.3 1305.8L1618.2 1305.9L1620.2 1305.9L1622.2 1306L1624.2 1306.1L1626.2 1306.2L1628.1 1306.3L1630.1 1306.4L1632.1 1306.4L1634 1306.5L1636 1306.6L1638 1306.7L1639.9 1306.8L1641.9 1306.9L1643.9 1307L1645.8 1307.1L1647.8 1307.2L1649.7 1307.3" stroke="#f00" stroke-width="10" fill="none" stroke-linejoin="round" stroke-linecap="round"/>
<path d="M1015.1 990.6L1018.7 998.4M1046.7 1070.2L1048.1 1078.6M1085.2 1069.6L1088.2 1061.6M1102.9 989.5L1104.1 981.1M1111 909.3L1111.8 900.9M1119.4 828.3L1120.2 819.9M1127.9 747.7L1128.5 739.3M1132.4 667.5L1133 659.1M1138.4 586.9L1139 578.5M1144.7 506.3L1145.3 497.9M1150.8 425.8L1151.6 417.4M1158.4 345.6L1159.2 337.2M1166.5 264.2L1167.5 255.8M1177 175.7L1176 184.1M1197.6 104.6L1200.8 96.8M1221.8 152.6L1222.8 161M1236.5 233.1L1237.9 241.5M1246.9 313.5L1248.1 321.9M1258.7 394.1L1259.9 402.5M1271.5 474.8L1272.9 483.2M1285.8 555.4L1287.4 563.8M1303.3 635.9L1305.1 644.3M1318.9 716.1L1320.5 724.5M1336.1 797L1337.9 805.4M1354.4 877.8L1356 886.2M1368.4 958L1370 966.4M1386.8 1039.2L1389 1047.4M1412.1 1119.2L1414.9 1127.2M1441.6 1196.8L1445.6 1204.2M1487.4 1262.1L1493.6 1267.9M1551.6 1303L1558.8 1307.4" stroke="#f00" stroke-width="15.5" fill="none" stroke-linecap="round"/>
</g>
<path d="M687 700H869.7" stroke="#000" stroke-width="10" stroke-linecap="round"/>
<path d="M687 788H869.7" stroke="#f00" stroke-width="10" stroke-linecap="round"/>
<path d="M1556.2 66.2V499M1555 497.9H2060" stroke="#000" stroke-width="2.2" fill="none"/>
<path d="M1548 482.2H1556M1548 382.8H1556M1548 283.4H1556M1548 184H1556M1548 84.6H1556M1551 497.6H1556M1551 491.8H1556M1551 486.7H1556M1551 452.3H1556M1551 434.8H1556M1551 422.4H1556M1551 412.7H1556M1551 404.9H1556M1551 398.2H1556M1551 392.4H1556M1551 387.3H1556M1551 352.9H1556M1551 335.4H1556M1551 323H1556M1551 313.3H1556M1551 305.5H1556M1551 298.8H1556M1551 293H1556M1551 287.9H1556M1551 253.5H1556M1551 236H1556M1551 223.6H1556M1551 213.9H1556M1551 206.1H1556M1551 199.4H1556M1551 193.6H1556M1551 188.5H1556M1551 154.1H1556M1551 136.6H1556M1551 124.2H1556M1551 114.5H1556M1551 106.7H1556M1551 100H1556M1551 94.2H1556M1551 89.1H1556M1556.2 498V505.8M1636.6 498V505.8M1717 498V505.8M1797.4 498V505.8M1877.8 498V505.8M1958.2 498V505.8M2038.6 498V505.8M1596.4 498V502.8M1676.8 498V502.8M1757.2 498V502.8M1837.6 498V502.8M1918 498V502.8M1998.4 498V502.8" stroke="#000" stroke-width="2.6" fill="none"/>
<path d="M1556.5 482.5H1558.5M1571 482.5H1577M1586.3 482.5V452.3H1587.7V482.5M1596.4 482.5V434.8H1597.8V482.5M1610 482.5H1621.8M1623.5 413L1625.2 360L1627 265L1628.8 170L1630.3 122.5L1632.2 100L1634 89.5L1636.4 86.8L1637.4 86.9L1638.4 87L1639.4 89.7L1640.4 90.7L1641.4 91.9L1642.4 93.8L1643.4 95.1L1644.4 96.6L1645.4 97.2L1646.4 98.9L1647.5 98.9L1648.5 100.7L1649.5 101.8L1650.5 102.4L1651.5 104.1L1652.5 104.8L1653.5 105L1654.5 105.7L1655.5 106.9L1656.5 108.2L1657.5 108.2L1658.5 109.2L1659.5 110.8L1660.5 111.3L1661.5 111.7L1662.5 113.3L1663.5 114.1L1664.5 115.8L1665.5 115.5L1666.5 115.8L1667.6 117L1668.6 118.4L1669.6 118.9L1670.6 121.8L1671.6 122.3L1672.6 122.7L1673.6 123.8L1674.6 123.8L1675.6 125.3L1676.6 125.1L1677.6 126L1678.6 127.1L1679.6 127.8L1680.6 128.9L1681.6 129.9L1682.6 130.8L1683.6 131L1684.6 133.2L1685.6 133.6L1686.6 133L1687.7 135.4L1688.7 136L1689.7 136.7L1690.7 137.5L1691.7 137.9L1692.7 138.6L1693.7 140.3L1694.7 141.7L1695.7 142.4L1696.7 142.7L1697.7 143.9L1698.7 144.1L1699.7 146.4L1700.7 146.6L1701.7 147.6L1702.7 146.4L1703.7 150L1704.7 150.2L1705.7 150.6L1706.7 152.8L1707.8 151.9L1708.8 153.1L1709.8 156.3L1710.8 156L1711.8 153.9L1712.8 157L1713.8 158.4L1714.8 158.7L1715.8 158.7L1716.8 160.6L1717.8 161L1718.8 161.9L1719.8 162.9L1720.8 163.4L1721.8 163.6L1722.8 165.2L1723.8 164.8L1724.8 167L1725.8 167.4L1726.8 168.3L1727.9 168.7L1728.9 169.1L1729.9 170.9L1730.9 172.8L1731.9 175.3L1732.9 175.6L1733.9 173.1L1734.9 176.6L1735.9 176L1736.9 177.5L1737.9 177.5L1738.9 177.9L1739.9 180.3L1740.9 181.8L1741.9 183L1742.9 184.2L1743.9 181.5L1744.9 186.2L1745.9 183.3L1746.9 186.4L1748 186L1749 187.3L1750 189.3L1751 189.3L1752 190.4L1753 191.6L1754 193.7L1755 194.1L1756 193.5L1757 193.2L1758 193.6L1759 194.9L1760 194.8L1761 197.7L1762 200.7L1763 197.1L1764 201.7L1765 203.8L1766 198.4L1767 203.9L1768.1 202.5L1769.1 208.6L1770.1 203.8L1771.1 206.1L1772.1 207L1773.1 208.3L1774.1 207L1775.1 214.8L1776.1 212.1L1777.1 212.4L1778.1 213.8L1779.1 212.7L1780.1 212.7L1781.1 216L1782.1 216.8L1783.1 219L1784.1 223L1785.1 220.1L1786.1 218.4L1787.1 217.5L1788.2 222.8L1789.2 225.3L1790.2 222.6L1791.2 225.4L1792.2 228.8L1793.2 224.1L1794.2 227.2L1795.2 225.8L1796.2 229L1797.2 230.8L1798.2 232.4L1799.2 227.5L1800.2 229.3L1801.2 229.4L1802.2 235.8L1803.2 235.8L1804.2 239.6L1805.2 231.1L1806.2 237.9L1807.2 234.7L1808.3 237.4L1809.3 239.4L1810.3 240.2L1811.3 246.3L1812.3 240.2L1813.3 241L1814.3 244.9L1815.3 245.8L1816.3 242.7L1817.3 249.2L1818.3 248.2L1819.3 250.8L1820.3 249L1821.3 251.2L1822.3 249.2L1823.3 253.9L1824.3 259.2L1825.3 260.2L1826.3 251.6L1827.3 255L1828.4 258.8L1829.4 260L1830.4 259L1831.4 260.7L1832.4 257.3L1833.4 260L1834.4 260.2L1835.4 261L1836.4 255.7L1837.4 264.8L1838.4 265.6L1839.4 263.4L1840.4 272.4L1841.4 265.9L1842.4 264.8L1843.4 272.4L1844.4 279.3L1845.4 270.4L1846.4 270.1L1847.4 274.8L1848.5 274.5L1849.5 267.1L1850.5 274.1L1851.5 273.1L1852.5 274.5L1853.5 277L1854.5 274.8L1855.5 280.5L1856.5 284.7L1857.5 277.7L1858.5 280.1L1859.5 280.1L1860.5 275.2L1861.5 285.2L1862.5 282.1L1863.5 292.5L1864.5 297L1865.5 288.4L1866.5 287.9L1867.5 285.2L1868.6 295.8L1869.6 296.4L1870.6 290.9L1871.6 287.9L1872.6 298.2L1873.6 297.6L1874.6 302L1875.6 305.5L1876.6 293L1877.6 295.2L1878.6 301.3L1879.6 298.8L1880.6 300L1881.6 295.2L1882.6 301.3L1883.6 300L1884.6 304L1885.6 306.9L1886.6 314.2L1887.6 298.8L1888.7 302.7L1889.7 307.7L1890.7 316.9L1891.7 305.5L1892.7 306.9L1893.7 310.8L1894.7 316L1895.7 319.8L1896.7 327.5L1897.7 310L1898.7 320.8L1899.7 316.9L1900.7 310L1901.7 310L1902.7 310.8L1903.7 319.8L1904.7 317.9L1905.7 320.8L1906.7 321.9L1907.7 323L1908.8 332.6L1909.8 327.5L1910.8 326.3L1911.8 330L1912.8 319.8L1913.8 334L1914.8 325.2L1915.8 327.5L1916.8 334L1917.8 325.2L1918.8 335.4L1919.8 343.2L1920.8 335.4L1921.8 318.8L1922.8 345L1923.8 339.9L1924.8 324L1925.8 339.9L1926.8 348.8L1927.8 346.8L1928.9 345L1929.9 339.9L1930.9 339.9L1931.9 350.8L1932.9 341.6L1933.9 346.8L1934.9 359.9L1935.9 324L1936.9 330L1937.9 326.3L1938.9 345L1939.9 350.8L1940.9 365.3L1941.9 346.8L1942.9 338.4L1943.9 346.8L1944.9 350.8L1945.9 371.5L1946.9 362.5L1947.9 348.8L1949 362.5L1950 368.3L1951 348.8L1952 365.3L1953 352.9L1954 345L1955 355.1L1956 341.6L1957 343.2L1958 352.9L1959 357.4L1960 357.4L1961 345L1962 368.3L1963 368.3L1964 371.5L1965 371.5L1966 357.4L1967 362.5L1968 357.4L1969.1 378.7L1970.1 365.3L1971.1 355.1L1972.1 362.5L1973.1 357.4L1974.1 398.2L1975.1 374.9L1976.1 368.3L1977.1 368.3L1978.1 350.8L1979.1 382.8L1980.1 371.5L1981.1 387.3L1982.1 371.5L1983.1 387.3L1984.1 378.7L1985.1 398.2L1986.1 374.9L1987.1 368.3L1988.1 378.7L1989.2 362.5L1990.2 382.8L1991.2 387.3L1992.2 392.4L1993.2 387.3L1994.2 434.8L1995.2 382.8L1996.2 382.8L1997.2 387.3L1998.2 382.8L1999.2 412.7L2000.2 382.8L2001.2 374.9L2002.2 392.4L2003.2 374.9L2004.2 398.2L2005.2 422.4L2006.2 365.3L2007.2 371.5L2008.2 382.8L2009.3 392.4L2010.3 378.7L2011.3 412.7L2012.3 378.7L2013.3 404.9L2014.3 404.9L2015.3 434.8L2016.3 387.3L2017.3 452.3L2018.3 392.4L2019.3 398.2L2020.3 371.5L2021.3 404.9L2022.3 378.7L2023.3 392.4L2024.3 382.8L2025.3 371.5L2026.3 404.9L2027.3 434.8L2028.3 404.9L2029.4 422.4L2030.4 387.3L2031.4 422.4L2032.4 387.3L2033.4 398.2L2034.4 412.7L2035.4 412.7L2036.4 412.7L2037.4 412.7L2038.4 404.9" stroke="#000" stroke-width="4.5" fill="none" stroke-linejoin="round" stroke-linecap="round"/>
<path d="M1559.3 452.3H1561L1561.7 482.5M1571.2 482.5H1578.3V434.8H1579.8V482.5M1585.3 482.5H1596V452.3H1591.3V482.5M1593.6 482.5V452.3M1603.2 482.5H1606V422.4H1607.6V482.5M1621.5 436L1623.9 360L1625.8 265L1627.7 170L1629.4 122.5L1631.5 100L1633.4 89.3L1635.8 86.5L1636.6 85.8L1637.6 86.6L1638.6 89L1639.6 90.4L1640.6 93.2L1641.6 95.2L1642.6 96.5L1643.6 98.5L1644.6 99.3L1645.6 100.8L1646.6 101.7L1647.7 103L1648.7 103.8L1649.7 105.3L1650.7 105.4L1651.7 107.4L1652.7 107.9L1653.7 108.5L1654.7 110.6L1655.7 110.5L1656.7 111.6L1657.7 113.4L1658.7 113.3L1659.7 113.2L1660.7 114.5L1661.7 115.1L1662.7 116.4L1663.7 117.3L1664.7 116.1L1665.7 118.4L1666.8 118.7L1667.8 121.2L1668.8 121L1669.8 121.9L1670.8 121.9L1671.8 123.4L1672.8 124.6L1673.8 125.3L1674.8 126.4L1675.8 129.1L1676.8 127.8L1677.8 127.5L1678.8 129.1L1679.8 130.4L1680.8 130.3L1681.8 132.5L1682.8 131.7L1683.8 133.4L1684.8 133.4L1685.8 134.4L1686.8 136.4L1687.9 137.3L1688.9 135.6L1689.9 138.5L1690.9 137.1L1691.9 139.7L1692.9 139.9L1693.9 141.5L1694.9 142.4L1695.9 144.6L1696.9 143.7L1697.9 145.2L1698.9 144.9L1699.9 145.8L1700.9 147.4L1701.9 148.6L1702.9 149.4L1703.9 148.4L1704.9 149.9L1705.9 150.8L1706.9 151.9L1708 152.2L1709 155.4L1710 153.5L1711 154.4L1712 154.3L1713 155.3L1714 155.8L1715 161.6L1716 159.8L1717 160.9L1718 161.8L1719 159.4L1720 161.2L1721 162.7L1722 163.7L1723 163.4L1724 166L1725 167.9L1726 166.1L1727 166.5L1728.1 170.3L1729.1 168L1730.1 170.1L1731.1 170.8L1732.1 171.4L1733.1 171.5L1734.1 174.2L1735.1 172.8L1736.1 176.6L1737.1 175.4L1738.1 176.5L1739.1 178L1740.1 178.5L1741.1 181.2L1742.1 181.7L1743.1 179.4L1744.1 182.1L1745.1 183.6L1746.1 183.9L1747.1 186.4L1748.2 184.5L1749.2 188.1L1750.2 188.3L1751.2 189.1L1752.2 185.8L1753.2 189.7L1754.2 189.1L1755.2 190.7L1756.2 191.7L1757.2 194.4L1758.2 191.5L1759.2 192.8L1760.2 197.5L1761.2 194L1762.2 197.2L1763.2 195.6L1764.2 199.8L1765.2 196.9L1766.2 196.1L1767.2 198.6L1768.3 200.1L1769.3 200.3L1770.3 201.3L1771.3 203.8L1772.3 203.8L1773.3 204.6L1774.3 206.2L1775.3 203.5L1776.3 209.5L1777.3 206.9L1778.3 205.8L1779.3 212.2L1780.3 210L1781.3 209.8L1782.3 209L1783.3 211.2L1784.3 213.8L1785.3 215.5L1786.3 213.9L1787.3 213.2L1788.4 218.4L1789.4 219.3L1790.4 221.2L1791.4 216.7L1792.4 222.2L1793.4 222.3L1794.4 222.9L1795.4 221.6L1796.4 223.8L1797.4 221.1L1798.4 227.6L1799.4 227.6L1800.4 226.3L1801.4 233.3L1802.4 227.3L1803.4 230.6L1804.4 226.5L1805.4 227.9L1806.4 229.7L1807.4 230.6L1808.5 234.1L1809.5 231.6L1810.5 230.2L1811.5 236.3L1812.5 238.8L1813.5 236.1L1814.5 239.1L1815.5 236.7L1816.5 233.5L1817.5 240.4L1818.5 237.7L1819.5 240L1820.5 241.8L1821.5 248.4L1822.5 244L1823.5 242.7L1824.5 243.3L1825.5 245.6L1826.5 241.8L1827.5 248L1828.6 248L1829.6 248.4L1830.6 253L1831.6 253.7L1832.6 249.4L1833.6 251.8L1834.6 253.5L1835.6 250.8L1836.6 253.5L1837.6 255L1838.6 253.9L1839.6 257.3L1840.6 257.8L1841.6 255.2L1842.6 255.7L1843.6 260.5L1844.6 256.8L1845.6 261L1846.6 260.7L1847.6 263.9L1848.7 266.2L1849.7 266.2L1850.7 266.8L1851.7 267.7L1852.7 262.3L1853.7 265.9L1854.7 264.2L1855.7 269.5L1856.7 271.1L1857.7 267.1L1858.7 268.6L1859.7 273.8L1860.7 277L1861.7 271.7L1862.7 283.8L1863.7 271.7L1864.7 285.2L1865.7 280.5L1866.7 279.3L1867.8 281.7L1868.8 278.9L1869.8 283L1870.8 284.3L1871.8 282.5L1872.8 279.7L1873.8 288.9L1874.8 280.5L1875.8 277.4L1876.8 283.8L1877.8 282.5L1878.8 290.4L1879.8 287.9L1880.8 288.9L1881.8 295.2L1882.8 295.2L1883.8 279.7L1884.8 296.4L1885.8 292.5L1886.8 293.6L1887.8 297L1888.9 299.4L1889.9 296.4L1890.9 290.9L1891.9 288.4L1892.9 294.7L1893.9 295.2L1894.9 294.7L1895.9 307.7L1896.9 298.2L1897.9 298.2L1898.9 290.9L1899.9 304.7L1900.9 300L1901.9 297.6L1902.9 306.9L1903.9 313.3L1904.9 309.2L1905.9 297.6L1906.9 299.4L1907.9 301.3L1909 313.3L1910 304L1911 316L1912 300L1913 307.7L1914 306.2L1915 312.5L1916 312.5L1917 326.3L1918 310L1919 319.8L1920 316.9L1921 320.8L1922 315.1L1923 320.8L1924 315.1L1925 316L1926 316L1927 321.9L1928 323L1929.1 326.3L1930.1 330L1931.1 332.6L1932.1 325.2L1933.1 330L1934.1 325.2L1935.1 336.8L1936.1 327.5L1937.1 345L1938.1 331.3L1939.1 345L1940.1 323L1941.1 331.3L1942.1 335.4L1943.1 334L1944.1 346.8L1945.1 317.9L1946.1 330L1947.1 332.6L1948.1 332.6L1949.2 334L1950.2 334L1951.2 346.8L1952.2 330L1953.2 336.8L1954.2 341.6L1955.2 343.2L1956.2 335.4L1957.2 327.5L1958.2 348.8L1959.2 368.3L1960.2 350.8L1961.2 330L1962.2 355.1L1963.2 343.2L1964.2 346.8L1965.2 338.4L1966.2 336.8L1967.2 338.4L1968.2 336.8L1969.3 348.8L1970.3 346.8L1971.3 362.5L1972.3 374.9L1973.3 365.3L1974.3 355.1L1975.3 357.4L1976.3 357.4L1977.3 359.9L1978.3 345L1979.3 359.9L1980.3 362.5L1981.3 355.1L1982.3 338.4L1983.3 348.8L1984.3 348.8L1985.3 341.6L1986.3 374.9L1987.3 339.9L1988.3 343.2L1989.4 382.8L1990.4 359.9L1991.4 350.8L1992.4 348.8L1993.4 362.5L1994.4 341.6L1995.4 343.2L1996.4 365.3L1997.4 362.5L1998.4 365.3L1999.4 378.7L2000.4 355.1L2001.4 357.4L2002.4 374.9L2003.4 371.5L2004.4 357.4L2005.4 371.5L2006.4 378.7L2007.4 359.9L2008.4 374.9L2009.5 365.3L2010.5 371.5L2011.5 365.3L2012.5 362.5L2013.5 343.2L2014.5 378.7L2015.5 348.8L2016.5 368.3L2017.5 362.5L2018.5 378.7L2019.5 398.2L2020.5 378.7L2021.5 374.9L2022.5 365.3L2023.5 357.4L2024.5 398.2L2025.5 368.3L2026.5 378.7L2027.5 368.3L2028.5 371.5L2029.6 387.3L2030.6 371.5L2031.6 412.7L2032.6 365.3L2033.6 392.4L2034.6 387.3L2035.6 378.7L2036.6 378.7L2037.6 378.7L2038.6 378.7" stroke="#f00" stroke-width="4.5" fill="none" stroke-linejoin="round" stroke-linecap="round"/>
<defs><filter id="bin" filterUnits="userSpaceOnUse" x="0" y="0" width="2099" height="1557"><feComponentTransfer><feFuncA type="discrete" tableValues="0 1"/></feComponentTransfer></filter></defs>
<g filter="url(#bin)">
<text x="227.8" y="1325.3" font-size="66" text-anchor="end">0.0</text>
<text x="227.8" y="1082.2" font-size="66" text-anchor="end">0.2</text>
<text x="227.8" y="839.1" font-size="66" text-anchor="end">0.4</text>
<text x="227.8" y="596" font-size="66" text-anchor="end">0.6</text>
<text x="227.8" y="352.9" font-size="66" text-anchor="end">0.8</text>
<text x="227.8" y="109.8" font-size="66" text-anchor="end">1.0</text>
<text x="341" y="1410.8" font-size="66" text-anchor="middle">400</text>
<text x="715.1" y="1410.8" font-size="66" text-anchor="middle">500</text>
<text x="1089.2" y="1410.8" font-size="66" text-anchor="middle">600</text>
<text x="1463.3" y="1410.8" font-size="66" text-anchor="middle">700</text>
<text x="1837.4" y="1410.8" font-size="66" text-anchor="middle">800</text>
<text x="867.5" y="1527.2" font-size="72">Wavelengths, nm</text>
<text transform="translate(88 1047.2) rotate(-90)" font-size="72">Normalized intensity</text>
<text x="685.5" y="636" font-size="72">[BSA], <tspan font-family="'Liberation Serif',serif">&#956;</tspan>M</text>
<text x="889.7" y="723" font-size="72">0</text>
<text x="889.6" y="811.5" font-size="72">30</text>
<text x="1466.8" y="502.7" font-size="54">10</text>
<text x="1526" y="471.6" font-size="33">0</text>
<text x="1466.8" y="403.3" font-size="54">10</text>
<text x="1526" y="372.2" font-size="33">1</text>
<text x="1466.8" y="303.9" font-size="54">10</text>
<text x="1526" y="272.8" font-size="33">2</text>
<text x="1466.8" y="204.5" font-size="54">10</text>
<text x="1526" y="173.4" font-size="33">3</text>
<text x="1466.8" y="105.1" font-size="54">10</text>
<text x="1526" y="74" font-size="33">4</text>
<text x="1556.2" y="552.7" font-size="54" text-anchor="middle">-2</text>
<text x="1636.6" y="552.7" font-size="54" text-anchor="middle">0</text>
<text x="1717" y="552.7" font-size="54" text-anchor="middle">2</text>
<text x="1797.4" y="552.7" font-size="54" text-anchor="middle">4</text>
<text x="1877.8" y="552.7" font-size="54" text-anchor="middle">6</text>
<text x="1958.2" y="552.7" font-size="54" text-anchor="middle">8</text>
<text x="2038.6" y="552.7" font-size="54" text-anchor="middle">10</text>
<text x="1703" y="624.9" font-size="55.5">Time, ns</text>
<text transform="translate(1363.8 491.7) rotate(-90)" font-size="56">lg(fluorescence</text>
<text transform="translate(1433 467.3) rotate(-90)" font-size="56">intensity), a.u.</text>
</g>
</svg></body></html>
